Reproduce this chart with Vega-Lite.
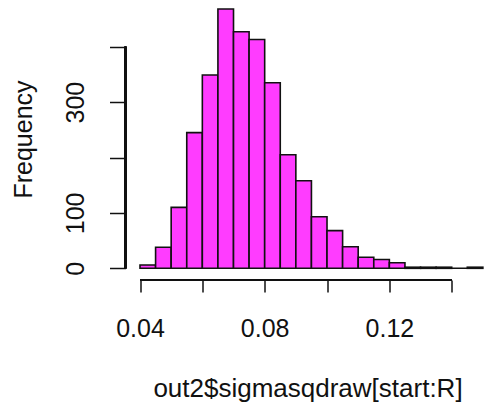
{
  "$schema": "https://vega.github.io/schema/vega-lite/v6.json",
  "width": 358.5,
  "height": 280,
  "autosize": {"type": "none"},
  "padding": {"left": 125.5, "top": 0, "right": 0, "bottom": 128},
  "background": "white",
  "config": {
    "view": {"stroke": null},
    "font": "Liberation Sans"
  },
  "data": {
    "values": [
      {"bin_start": 0.040, "bin_end": 0.045, "count": 6},
      {"bin_start": 0.045, "bin_end": 0.050, "count": 38},
      {"bin_start": 0.050, "bin_end": 0.055, "count": 110},
      {"bin_start": 0.055, "bin_end": 0.060, "count": 245},
      {"bin_start": 0.060, "bin_end": 0.065, "count": 349},
      {"bin_start": 0.065, "bin_end": 0.070, "count": 468},
      {"bin_start": 0.070, "bin_end": 0.075, "count": 427},
      {"bin_start": 0.075, "bin_end": 0.080, "count": 413},
      {"bin_start": 0.080, "bin_end": 0.085, "count": 335},
      {"bin_start": 0.085, "bin_end": 0.090, "count": 205},
      {"bin_start": 0.090, "bin_end": 0.095, "count": 158},
      {"bin_start": 0.095, "bin_end": 0.100, "count": 93},
      {"bin_start": 0.100, "bin_end": 0.105, "count": 68},
      {"bin_start": 0.105, "bin_end": 0.110, "count": 39},
      {"bin_start": 0.110, "bin_end": 0.115, "count": 20},
      {"bin_start": 0.115, "bin_end": 0.120, "count": 16},
      {"bin_start": 0.120, "bin_end": 0.125, "count": 10},
      {"bin_start": 0.125, "bin_end": 0.130, "count": 2},
      {"bin_start": 0.130, "bin_end": 0.135, "count": 2},
      {"bin_start": 0.135, "bin_end": 0.140, "count": 2},
      {"bin_start": 0.140, "bin_end": 0.145, "count": 0},
      {"bin_start": 0.145, "bin_end": 0.150, "count": 2}
    ]
  },
  "layer": [
    {
      "mark": {"type": "rect", "fill": "#ff3cff", "stroke": "#111111", "strokeWidth": 1.6},
      "encoding": {
        "x": {
          "field": "bin_start",
          "type": "quantitative",
          "scale": {"domain": [0.035348, 0.150362], "nice": false, "zero": false},
          "axis": {
            "title": "out2$sigmasqdraw[start:R]",
            "values": [0.04, 0.06, 0.08, 0.10, 0.12, 0.14],
            "format": ".2f",
            "labelExpr": "(abs(datum.value - 0.06) < 0.001 || abs(datum.value - 0.10) < 0.001 || abs(datum.value - 0.14) < 0.001) ? '' : datum.label",
            "domain": false,
            "grid": false,
            "tickSize": 12,
            "tickWidth": 1.5,
            "tickColor": "#111111",
            "labelFont": "Liberation Sans",
            "labelFontSize": 25,
            "labelColor": "#111111",
            "labelBaseline": "alphabetic",
            "labelPadding": 44,
            "labelFlush": false,
            "labelOverlap": false,
            "titleFont": "Liberation Sans",
            "titleFontSize": 26,
            "titleFontWeight": "normal",
            "titleColor": "#111111",
            "titleBaseline": "alphabetic",
            "titleAlign": "center",
            "titleX": 182,
            "titleY": 116
          }
        },
        "x2": {"field": "bin_end"},
        "y": {
          "field": "count",
          "type": "quantitative",
          "scale": {"domain": [-21.1, 484.3], "nice": false, "zero": false},
          "axis": {
            "title": "Frequency",
            "values": [0, 100, 200, 300, 400],
            "labelExpr": "(datum.value == 200 || datum.value == 400) ? '' : datum.label",
            "domain": false,
            "grid": false,
            "tickSize": 16,
            "tickWidth": 1.5,
            "tickColor": "#111111",
            "labelFont": "Liberation Sans",
            "labelFontSize": 25,
            "labelColor": "#111111",
            "labelAngle": 270,
            "labelAlign": "center",
            "labelBaseline": "alphabetic",
            "labelPadding": 26,
            "labelOverlap": false,
            "titleFont": "Liberation Sans",
            "titleFontSize": 25,
            "titleFontWeight": "normal",
            "titleColor": "#111111",
            "titleAngle": 270,
            "titleAlign": "center",
            "titleBaseline": "alphabetic",
            "titleX": -94.5,
            "titleY": 139
          }
        },
        "y2": {"datum": 0}
      }
    },
    {
      "mark": {"type": "rule", "stroke": "#111111", "strokeWidth": 1.5},
      "encoding": {
        "x": {"datum": 0.04, "type": "quantitative"},
        "x2": {"datum": 0.14},
        "y": {"datum": -21.1, "type": "quantitative"}
      }
    },
    {
      "mark": {"type": "rule", "stroke": "#111111", "strokeWidth": 1.5},
      "encoding": {
        "x": {"datum": 0.035348, "type": "quantitative"},
        "y": {"datum": 0, "type": "quantitative"},
        "y2": {"datum": 400}
      }
    }
  ]
}
